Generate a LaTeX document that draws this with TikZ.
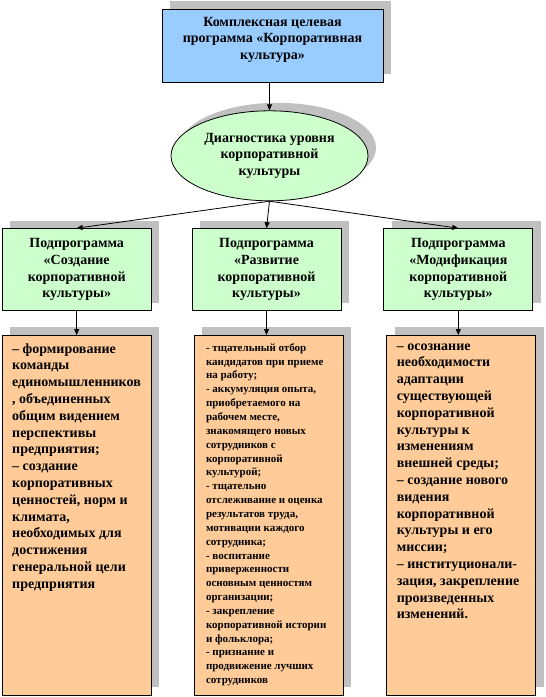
\documentclass[tikz,border=0pt]{standalone}
\usepackage{fontspec}
\setmainfont{Liberation Serif}
\usetikzlibrary{arrows.meta,positioning,shapes.geometric,shadows}

\definecolor{progblue}{HTML}{99CCFF}
\definecolor{subgreen}{HTML}{CCFFCC}
\definecolor{taskorange}{HTML}{FFCC99}
\definecolor{shadegray}{HTML}{C0C0C0}

\newcommand{\bigfont}{\fontsize{14pt}{16.8pt}\selectfont\bfseries}
\newcommand{\smallfont}{\fontsize{11pt}{13.85pt}\selectfont\bfseries}
\newcommand{\topbox}[3]{\parbox[c][#1][t]{#2}{#3}}

\begin{document}
\begin{tikzpicture}[
    x=1pt, y=-1pt,
    >={Triangle[length=6pt,width=5pt]},
    node distance=27pt and 40pt,
    boxshadow/.style={drop shadow={shadow xshift=8pt, shadow yshift=8pt, fill=shadegray, opacity=1}},
    prog/.style={draw, line width=0.8pt, fill=progblue, boxshadow, minimum width=221pt, minimum height=73pt, inner xsep=6pt, inner ysep=8pt, font=\bigfont},
    diagn/.style={ellipse, draw, line width=0.8pt, fill=subgreen, boxshadow, minimum width=197pt, minimum height=90pt, inner sep=0pt, align=center, font=\bigfont},
    sub/.style={draw, line width=0.8pt, fill=subgreen, boxshadow, minimum width=149pt, minimum height=82pt, inner sep=0pt, align=center, font=\bigfont},
    task/.style={draw, line width=0.8pt, fill=taskorange, boxshadow, minimum width=149pt, minimum height=360pt, inner xsep=10pt, inner ysep=8pt, font=\bigfont},
    arr/.style={->, line width=0.8pt}
]
    \useasboundingbox (0,0) rectangle (546,697);

    \node[prog] (prog) at (272.5,45.5) {\topbox{57pt}{209pt}{\centering Комплексная целевая\\ программа «Корпоративная\\ культура»}};
    \node[diagn, below=28pt of prog, xshift=-3pt] (diag) {Диагностика уровня\\ корпоративной\\ культуры};

    \node[sub, below=of diag, xshift=-3pt] (subB) {Подпрограмма\\ «Развитие\\ корпоративной\\ культуры»};
    \node[sub, left=of subB] (subA) {Подпрограмма\\ «Создание\\ корпоративной\\ культуры»};
    \node[sub, right=42pt of subB] (subC) {Подпрограмма\\ «Модификация\\ корпоративной\\ культуры»};

    \node[task, below=24pt of subA] (taskA) {\topbox{344pt}{129pt}{\raggedright
        – формирование\\ команды\\ единомышленников\\ , объединенных\\ общим видением\\ перспективы\\ предприятия;\\
        – создание\\ корпоративных\\ ценностей, норм и\\ климата,\\ необходимых для\\ достижения\\ генеральной цели\\ предприятия}};
    \node[task, below=24pt of subB, xshift=2pt, inner xsep=12pt, font=\smallfont] (taskB) {\topbox{344pt}{125pt}{\raggedright
        - тщательный отбор\\ кандидатов при приеме\\ на работу;\\
        - аккумуляция опыта,\\ приобретаемого на\\ рабочем месте,\\ знакомящего новых\\ сотрудников с\\ корпоративной\\ культурой;\\
        - тщательно\\ отслеживание и оценка\\ результатов труда,\\ мотивации каждого\\ сотрудника;\\
        - воспитание\\ приверженности\\ основным ценностям\\ организации;\\
        - закрепление\\ корпоративной истории\\ и фольклора;\\
        - признание и\\ продвижение лучших\\ сотрудников}};
    \node[task, below=24pt of subC, xshift=3pt] (taskC) {\topbox{344pt}{129pt}{\raggedright
        – осознание\\ необходимости\\ адаптации\\ существующей\\ корпоративной\\ культуры к\\ изменениям\\ внешней среды;\\
        – создание нового\\ видения\\ корпоративной\\ культуры и его\\ миссии;\\
        – институционали-\\ зация, закрепление\\ произведенных\\ изменений.}};

    \draw[arr] (diag.north |- prog.south) -- (diag.north);
    \draw[arr] (diag.south) -- (subA.north);
    \draw[arr] (diag.south) -- (subB.north);
    \draw[arr] (diag.south) -- (subC.north);

    \draw[arr] (subA.south) -- (subA.south |- taskA.north);
    \draw[arr] (subB.south) -- (subB.south |- taskB.north);
    \draw[arr] (subC.south) -- (subC.south |- taskC.north);
\end{tikzpicture}
\end{document}
